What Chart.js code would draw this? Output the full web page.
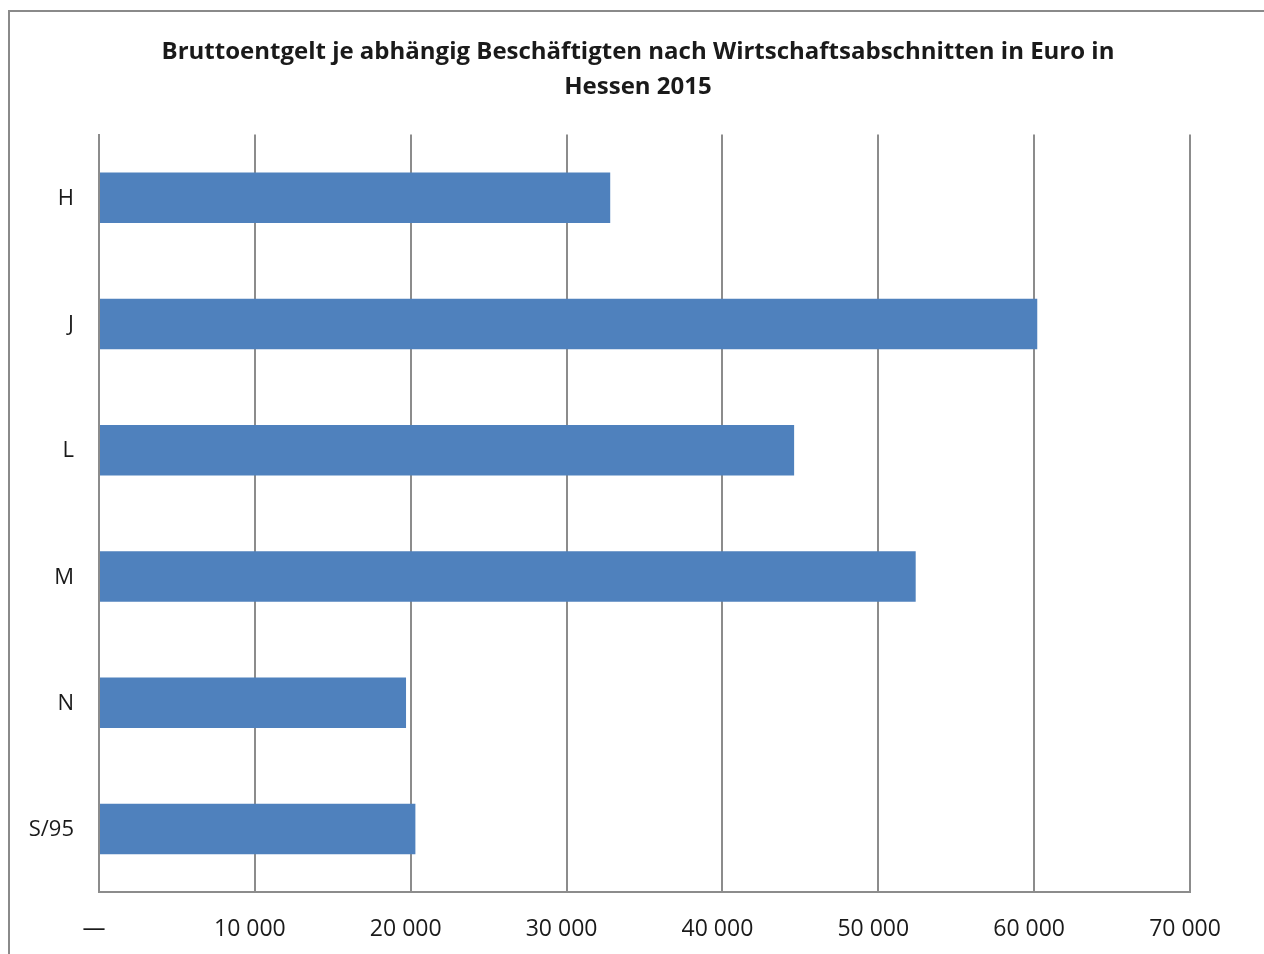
<!DOCTYPE html>
<html>
<head>
<meta charset="utf-8">
<script src="https://cdn.jsdelivr.net/npm/chart.js@4"></script>
<style>
  body { margin: 0; background: #fff; overflow: hidden; }
  #wrap { position: relative; width: 1264px; height: 954px; }
  #frame { position: absolute; left: 8px; top: 10px; width: 1400px; height: 1100px;
           border-left: 2px solid #8a8a8a; border-top: 2px solid #8a8a8a; }
  canvas { position: absolute; left: 0; top: 0; }
</style>
</head>
<body>
<div id="wrap">
  <div id="frame"></div>
  <canvas id="myChart" width="1264" height="954"></canvas>
</div>
<script>
// Wirtschaftsabschnitte
var categories = ["H", "J", "L", "M", "N", "S/95"];
// Bruttoentgelt in Euro
var values = [32800, 60200, 44600, 52400, 19700, 20300];
var xTickLabels = ["—", "10 000", "20 000", "30 000", "40 000", "50 000", "60 000", "70 000"];
var titleLines = ["Bruttoentgelt je abhängig Beschäftigten nach Wirtschaftsabschnitten in Euro in", "Hessen 2015"];

var ctx = document.getElementById("myChart").getContext("2d");
var chart = new Chart(ctx, {
  type: "bar",
  data: {
    labels: categories,
    datasets: [
      {
        data: values,
        backgroundColor: "rgb(79, 129, 189)",
        barPercentage: 0.4,
        categoryPercentage: 1.0,
      },
    ],
  },
  options: {
    indexAxis: "y",
    responsive: false,
    animation: false,
    layout: { padding: { left: 12, right: 0, top: 0, bottom: 0 } },
    plugins: {
      legend: { display: false },
      tooltip: { enabled: false },
      title: {
        display: true,
        text: titleLines,
        color: "#1a1a1a",
        font: { family: "Open Sans", size: 24, weight: "bold", lineHeight: 1.45 },
        padding: { top: 35, bottom: 30 },
      },
    },
    scales: {
      x: {
        min: 0,
        max: 70000,
        ticks: {
          stepSize: 10000,
          color: "#1a1a1a",
          font: { family: "Open Sans", size: 23 },
          padding: 24,
          labelOffset: -5,
          maxRotation: 0,
          callback: function (value, index) {
            return xTickLabels[index];
          },
        },
        grid: { color: "#8c8c8c", lineWidth: 2, drawTicks: false },
        border: { color: "#8c8c8c", width: 2 },
        afterFit: function (scale) {
          scale.height = 62;
        },
      },
      y: {
        ticks: {
          color: "#1a1a1a",
          font: { family: "Open Sans", size: 22 },
          padding: 25,
          labelOffset: 1,
        },
        grid: { display: false, drawTicks: false },
        border: { color: "#8c8c8c", width: 2 },
        afterFit: function (scale) {
          scale.width = 87;
        },
      },
      // empty right-hand axis, only keeps the plot area off the right edge
      yRight: {
        type: "category",
        position: "right",
        labels: categories,
        ticks: { display: false },
        grid: { display: false, drawTicks: false },
        border: { display: false },
        afterFit: function (scale) {
          scale.width = 74;
        },
      },
    },
  },
});
</script>
</body>
</html>
